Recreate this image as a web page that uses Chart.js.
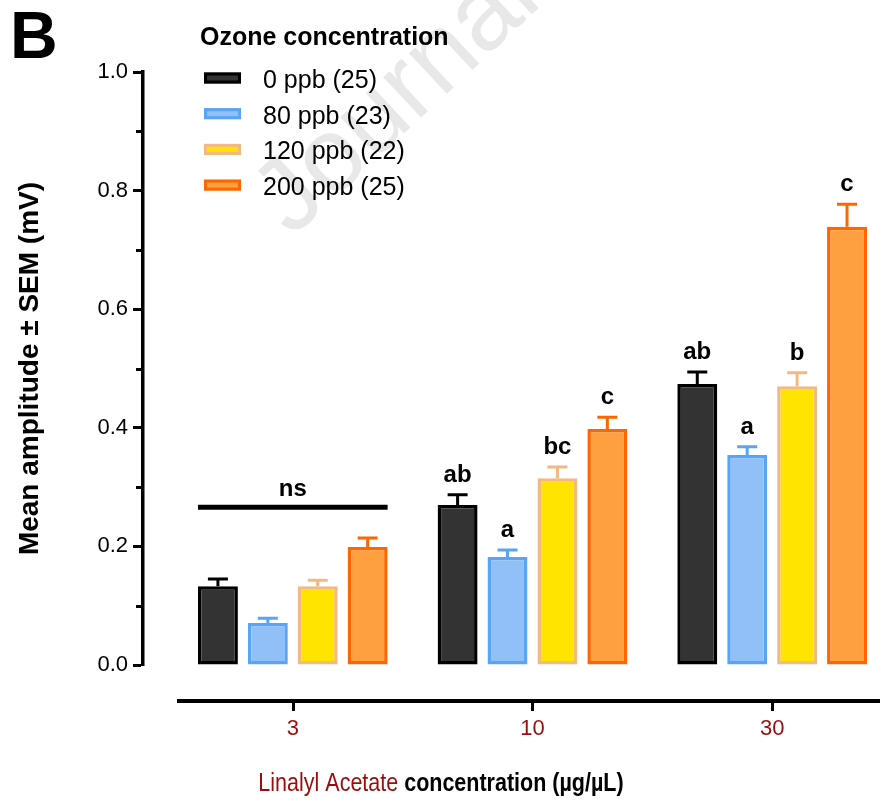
<!DOCTYPE html>
<html>
<head>
<meta charset="utf-8">
<script src="https://cdn.jsdelivr.net/npm/chart.js@4.4.1/dist/chart.umd.min.js"></script>
<style>
  html, body { margin: 0; padding: 0; background: #fff; overflow: hidden; }
  #wrap { position: relative; width: 880px; height: 805px; }
</style>
</head>
<body>
<div id="wrap"><canvas id="chart"></canvas></div>
<script>
"use strict";

// ---- data ----
const doses = ["3", "10", "30"];
const ozoneLabels = ["0 ppb (25)", "80 ppb (23)", "120 ppb (22)", "200 ppb (25)"];

const mean0 = [0.133, 0.270, 0.474];
const mean80 = [0.071, 0.182, 0.354];
const mean120 = [0.133, 0.315, 0.470];
const mean200 = [0.199, 0.398, 0.739];

const sem0 = [0.012, 0.017, 0.020];
const sem80 = [0.008, 0.012, 0.014];
const sem120 = [0.010, 0.019, 0.023];
const sem200 = [0.015, 0.020, 0.038];

const letters0 = ["", "ab", "ab"];
const letters80 = ["", "a", "a"];
const letters120 = ["", "bc", "b"];
const letters200 = ["", "c", "c"];

const nsDose = 0;
const nsLevel = 0.266;

const yTickValues = [0, 0.1, 0.2, 0.3, 0.4, 0.5, 0.6, 0.7, 0.8, 0.9, 1.0];
const yTickLabels = ["0.0", "", "0.2", "", "0.4", "", "0.6", "", "0.8", "", "1.0"];

// ---- styling ----
const SANS = "'Liberation Sans', Arial, sans-serif";
const DARK_RED = "#9b0d0d";

const series = [
  { label: ozoneLabels[0], mean: mean0, sem: sem0, letters: letters0, fill: "#333333", edge: "#000000" },
  { label: ozoneLabels[1], mean: mean80, sem: sem80, letters: letters80, fill: "#91c0f8", edge: "#58a4f6" },
  { label: ozoneLabels[2], mean: mean120, sem: sem120, letters: letters120, fill: "#ffe400", edge: "#f2b983" },
  { label: ozoneLabels[3], mean: mean200, sem: sem200, letters: letters200, fill: "#ffa040", edge: "#ff6600" },
];

Chart.defaults.font.family = SANS;

const decor = {
  id: "decor",
  beforeDraw(chart) {
    const c = chart.ctx;
    c.save();
    c.translate(292, 238);
    c.rotate(-43 * Math.PI / 180);
    c.fillStyle = "#e8e8e8";
    c.font = "105px " + SANS;
    c.fillText("Journal Pre-proof", 0, 0);
    c.restore();
  },
  afterDraw(chart) {
    const c = chart.ctx;
    const xs = chart.scales.x;
    const ys = chart.scales.y;
    const area = chart.chartArea;

    c.save();

    // minor y ticks
    c.strokeStyle = "#000";
    c.lineWidth = 3;
    yTickValues.forEach((v, i) => {
      if (yTickLabels[i] !== "") return;
      const py = Math.round(ys.getPixelForValue(v)) + 0.5;
      c.beginPath();
      c.moveTo(area.left, py);
      c.lineTo(area.left - 7, py);
      c.stroke();
    });

    // detached x axis line + ticks
    const axisY = area.bottom + 36;
    c.lineWidth = 4;
    c.beginPath();
    c.moveTo(area.left + 34, axisY);
    c.lineTo(chart.width, axisY);
    c.stroke();
    c.lineWidth = 3;
    doses.forEach((d, i) => {
      const px = Math.round(xs.getPixelForValue(i)) + 0.5;
      c.beginPath();
      c.moveTo(px, axisY);
      c.lineTo(px, axisY + 10);
      c.stroke();
    });

    // error bars (upper only) + significance letters
    series.forEach((s, di) => {
      const meta = chart.getDatasetMeta(di);
      meta.data.forEach((bar, i) => {
        const top = ys.getPixelForValue(s.mean[i] + s.sem[i]);
        c.strokeStyle = s.edge;
        c.lineWidth = 3;
        c.beginPath();
        c.moveTo(bar.x, bar.y);
        c.lineTo(bar.x, top);
        c.moveTo(bar.x - 10, top);
        c.lineTo(bar.x + 10, top);
        c.stroke();
        if (s.letters[i]) {
          c.fillStyle = "#000";
          c.font = "bold 24px " + SANS;
          c.textAlign = "center";
          c.textBaseline = "alphabetic";
          c.fillText(s.letters[i], bar.x, top - 13);
        }
      });
    });

    // "ns" bracket over the 3 ug/uL group
    const first = chart.getDatasetMeta(0).data[nsDose];
    const last = chart.getDatasetMeta(series.length - 1).data[nsDose];
    const nsY = ys.getPixelForValue(nsLevel);
    c.strokeStyle = "#000";
    c.lineWidth = 5;
    c.beginPath();
    c.moveTo(first.x - first.width / 2, nsY);
    c.lineTo(last.x + last.width / 2, nsY);
    c.stroke();
    c.fillStyle = "#000";
    c.font = "bold 24px " + SANS;
    c.textAlign = "center";
    c.fillText("ns", (first.x + last.x) / 2, nsY - 11);

    // legend
    c.textAlign = "left";
    c.font = "bold 25px " + SANS;
    c.fillText("Ozone concentration", 200, 45);
    c.font = "25px " + SANS;
    series.forEach((s, i) => {
      const cy = 78 + i * 35.7;
      c.fillStyle = s.fill;
      c.fillRect(204, cy - 5.5, 37, 11);
      c.strokeStyle = s.edge;
      c.lineWidth = 3;
      c.strokeRect(205.5, cy - 4, 34, 8);
      c.fillStyle = "#000";
      c.fillText(s.label, 263, cy + 10);
    });

    // panel letter
    c.font = "bold 66px " + SANS;
    c.fillText("B", 10, 58);

    // x title, two colours, condensed
    const partA = "Linalyl Acetate ";
    const partB = "concentration (\u00b5g/\u00b5L)";
    const squeeze = 0.86;
    c.font = "25px " + SANS;
    const wA = c.measureText(partA).width * squeeze;
    c.font = "bold 25px " + SANS;
    const wB = c.measureText(partB).width * squeeze;
    const x0 = 441 - (wA + wB) / 2;
    c.save();
    c.translate(x0, 791);
    c.scale(squeeze, 1);
    c.font = "25px " + SANS;
    c.fillStyle = DARK_RED;
    c.fillText(partA, 0, 0);
    c.font = "bold 25px " + SANS;
    c.fillStyle = "#000";
    c.fillText(partB, wA / squeeze, 0);
    c.restore();

    c.restore();
  },
};

const ctx = document.getElementById("chart").getContext("2d");
new Chart(ctx, {
  type: "bar",
  data: {
    datasets: series.map((s) => ({
      label: s.label,
      data: s.mean.map((v, i) => ({ x: i, y: v })),
      backgroundColor: s.fill,
      borderColor: s.edge,
      borderWidth: 3.5,
      borderSkipped: false,
      categoryPercentage: 0.833,
      barPercentage: 0.8,
    })),
  },
  options: {
    responsive: true,
    maintainAspectRatio: false,
    animation: false,
    layout: { padding: { top: 72, left: 0, right: 0, bottom: 0 } },
    plugins: {
      legend: { display: false },
      tooltip: { enabled: false },
    },
    scales: {
      x: {
        type: "linear",
        min: -0.625,
        max: 2.45,
        offset: false,
        grid: { display: false, drawTicks: false },
        border: { display: false },
        afterBuildTicks: (s) => {
          s.ticks = doses.map((d, i) => ({ value: i }));
        },
        afterFit: (s) => {
          s.height = 140;
        },
        ticks: {
          color: DARK_RED,
          font: { size: 22 },
          padding: 51,
          maxRotation: 0,
          callback: (v) => doses[v],
        },
      },
      y: {
        min: 0,
        max: 1,
        afterBuildTicks: (s) => {
          s.ticks = yTickValues.map((v) => ({ value: v }));
        },
        afterFit: (s) => {
          s.width = 143;
        },
        grid: {
          drawOnChartArea: false,
          tickLength: 10,
          tickWidth: 3,
          tickColor: (c) => (yTickLabels[c.index] ? "#000" : "rgba(0,0,0,0)"),
        },
        border: { color: "#000", width: 3.5 },
        ticks: {
          color: "#000",
          font: { size: 22 },
          padding: 5,
          callback: (v, i) => yTickLabels[i],
        },
        title: {
          display: true,
          text: "Mean amplitude \u00b1 SEM (mV)",
          color: "#000",
          font: { size: 28, weight: "bold" },
          padding: { top: 13, bottom: 0 },
        },
      },
    },
  },
  plugins: [decor],
});
</script>
</body>
</html>
